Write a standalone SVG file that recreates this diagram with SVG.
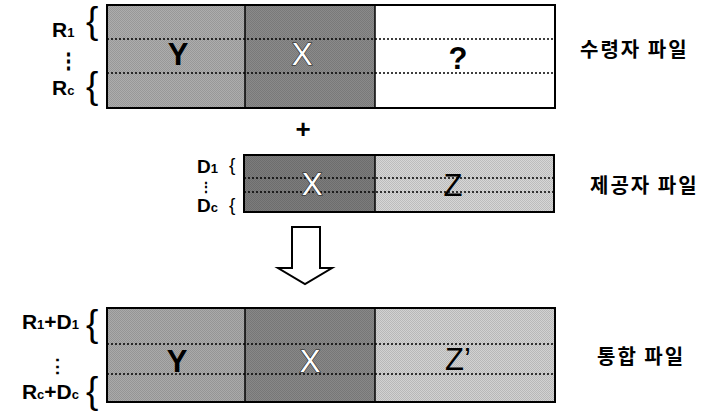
<svg xmlns="http://www.w3.org/2000/svg" width="718" height="412" viewBox="0 0 718 412">
<style>
.lbl{font-family:"Liberation Sans",Arial,sans-serif;font-weight:bold;fill:#000}
.sub{font-size:13px}
.brace{font-family:"Liberation Sans",Arial,sans-serif;font-weight:normal;fill:#000}
.big{font-family:"Liberation Sans",Arial,sans-serif;font-size:31px;text-anchor:middle}
.wx{fill:#fff;stroke:#222;stroke-width:1.2;paint-order:stroke}
.kr{font-family:"Noto Sans CJK KR","Noto Sans",sans-serif;font-weight:bold;font-size:20px;letter-spacing:2px;fill:#000}
.frame{fill:none;stroke:#000;stroke-width:2}
.sep{stroke:#000;stroke-width:1.5}
.dot{stroke:#000;stroke-width:1.4;stroke-dasharray:2 2}
</style>
<defs>
<pattern id="dither" width="2" height="2" patternUnits="userSpaceOnUse">
<rect width="1" height="1" fill="#000" fill-opacity="0.12"/>
<rect x="1" y="1" width="1" height="1" fill="#000" fill-opacity="0.12"/>
</pattern>
</defs>

<g id="recipient">
<rect x="107" y="5" width="138" height="103" fill="#adadad"/>
<rect x="245" y="5" width="130" height="103" fill="#8a8a8a"/>
<rect x="375" y="5" width="180" height="103" fill="#fff"/>
<rect x="107" y="5" width="268" height="103" fill="url(#dither)"/>
<line class="dot" x1="107" y1="39" x2="555" y2="39"/>
<line class="dot" x1="107" y1="73" x2="555" y2="73"/>
<line class="sep" x1="245" y1="5" x2="245" y2="108"/>
<line class="sep" x1="375" y1="5" x2="375" y2="108"/>
<rect class="frame" x="107" y="5" width="448" height="103"/>
<text class="big" x="178" y="65" font-weight="bold">Y</text>
<text class="big wx" x="302" y="65">X</text>
<text class="big" x="458" y="69" font-weight="bold">?</text>
<text class="lbl" x="52" y="37" font-size="21">R<tspan class="sub">1</tspan></text>
<text class="brace" x="86" y="33" font-size="37">{</text>
<text class="lbl" x="68" y="68" font-size="21" text-anchor="middle">⋮</text>
<text class="lbl" x="52" y="95" font-size="21">R<tspan class="sub">c</tspan></text>
<text class="brace" x="86" y="98" font-size="37">{</text>
<text class="kr" x="580" y="57">수령자 파일</text>
</g>

<g id="plus">
<text class="lbl" x="303" y="138" font-size="26" text-anchor="middle">+</text>
</g>

<g id="provider">
<rect x="244" y="155" width="131" height="57" fill="#7c7c7c"/>
<rect x="375" y="155" width="179" height="57" fill="#d6d6d6"/>
<rect x="244" y="155" width="310" height="57" fill="url(#dither)"/>
<line class="dot" x1="244" y1="178" x2="554" y2="178"/>
<line class="dot" x1="244" y1="192" x2="554" y2="192"/>
<line class="sep" x1="375" y1="155" x2="375" y2="212"/>
<rect class="frame" x="244" y="155" width="310" height="57"/>
<text class="big wx" x="312" y="195">X</text>
<text class="big" x="453" y="196">Z</text>
<text class="lbl" x="197" y="173" font-size="19">D<tspan class="sub" font-size="12">1</tspan></text>
<text class="brace" x="229" y="171" font-size="19">{</text>
<text class="lbl" x="206" y="192" font-size="14" text-anchor="middle">⋮</text>
<text class="lbl" x="197" y="212" font-size="19">D<tspan class="sub" font-size="12">c</tspan></text>
<text class="brace" x="229" y="211" font-size="19">{</text>
<text class="kr" x="590" y="193">제공자 파일</text>
</g>

<g id="connectors">
<polygon points="292,227 320,227 320,268 332,268 305,284 278,268 292,268" fill="#fff" stroke="#000" stroke-width="2" stroke-linejoin="miter"/>
</g>

<g id="merged">
<rect x="107" y="308" width="138" height="94" fill="#aaaaaa"/>
<rect x="245" y="308" width="130" height="94" fill="#888"/>
<rect x="375" y="308" width="180" height="94" fill="#d2d2d2"/>
<rect x="107" y="308" width="448" height="94" fill="url(#dither)"/>
<line class="dot" x1="107" y1="344" x2="555" y2="344"/>
<line class="dot" x1="107" y1="374" x2="555" y2="374"/>
<line class="sep" x1="245" y1="308" x2="245" y2="402"/>
<line class="sep" x1="375" y1="308" x2="375" y2="402"/>
<rect class="frame" x="107" y="308" width="448" height="94"/>
<text class="big" x="177" y="372" font-weight="bold">Y</text>
<text class="big wx" x="310" y="372">X</text>
<text class="big" x="458" y="370">Z’</text>
<text class="lbl" x="79" y="329" font-size="21" text-anchor="end">R<tspan class="sub">1</tspan>+D<tspan class="sub">1</tspan></text>
<text class="brace" x="86" y="336" font-size="37">{</text>
<text class="lbl" x="57" y="373" font-size="19" text-anchor="middle">⋮</text>
<text class="lbl" x="79" y="399" font-size="21" text-anchor="end">R<tspan class="sub">c</tspan>+D<tspan class="sub">c</tspan></text>
<text class="brace" x="86" y="403" font-size="37">{</text>
<text class="kr" x="597" y="364">통합 파일</text>
</g>
</svg>
